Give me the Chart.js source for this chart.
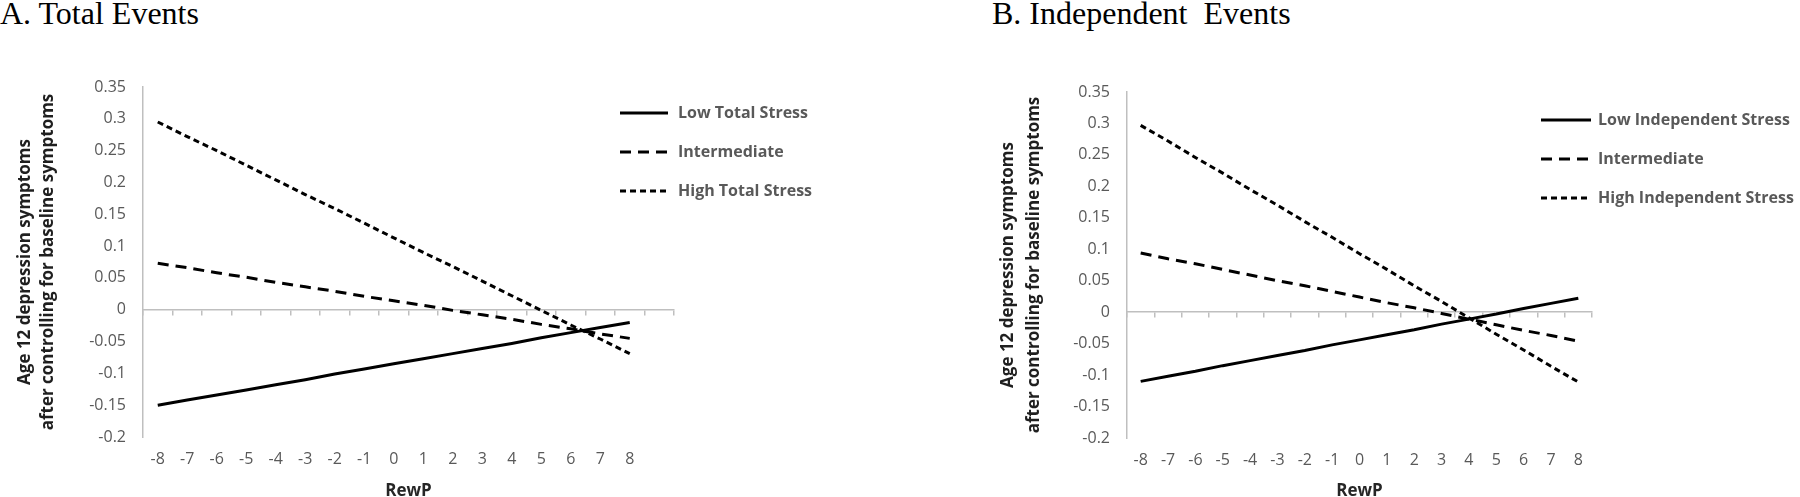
<!DOCTYPE html>
<html lang="en">
<head>
  <meta charset="UTF-8" />
  <title>RewP x Stress • Age 12 depression</title>
  <script src="https://cdn.jsdelivr.net/npm/chart.js"></script>
  <style>
    * { margin: 0; padding: 0; box-sizing: border-box; }
    body {
      width: 1800px;
      height: 497px;
      background: #fff;
      position: relative;
      overflow: hidden;
    }
    .panel-title {
      position: absolute;
      top: -3px;
      font-family: 'Liberation Serif', 'Times New Roman', serif;
      font-size: 32px;
      line-height: 32px;
      color: #000;
      white-space: pre;
    }
    canvas { position: absolute; top: 0; }
  </style>
</head>
<body>

<div class="panel-title" style="left:0">A. Total Events</div>
<div class="panel-title" style="left:992px">B. Independent  Events</div>

<canvas id="totalChart" width="900" height="497" style="left:0"></canvas>
<canvas id="indepChart" width="900" height="497" style="left:900px"></canvas>

<script>
  // RewP values on the x axis
  const rewp = [-8, -7, -6, -5, -4, -3, -2, -1, 0, 1, 2, 3, 4, 5, 6, 7, 8];

  // A. Total events
  const totalNames = ['Low Total Stress', 'Intermediate', 'High Total Stress'];
  const totalLow  = [-0.150, -0.142, -0.134, -0.126, -0.118, -0.110, -0.101, -0.093, -0.085, -0.077, -0.069, -0.061, -0.053, -0.044, -0.036, -0.028, -0.020];
  const totalMid  = [0.073, 0.066, 0.058, 0.051, 0.043, 0.036, 0.029, 0.021, 0.014, 0.007, -0.001, -0.008, -0.015, -0.023, -0.030, -0.038, -0.045];
  const totalHigh = [0.295, 0.272, 0.250, 0.227, 0.204, 0.181, 0.159, 0.136, 0.113, 0.090, 0.068, 0.045, 0.022, -0.001, -0.024, -0.046, -0.069];

  // B. Independent events
  const indepNames = ['Low Independent Stress', 'Intermediate', 'High Independent Stress'];
  const indepLow  = [-0.110, -0.102, -0.094, -0.085, -0.077, -0.069, -0.061, -0.052, -0.044, -0.036, -0.028, -0.019, -0.011, -0.003, 0.006, 0.014, 0.022];
  const indepMid  = [0.094, 0.085, 0.077, 0.068, 0.059, 0.050, 0.042, 0.033, 0.024, 0.015, 0.007, -0.002, -0.011, -0.020, -0.029, -0.037, -0.046];
  const indepHigh = [0.297, 0.272, 0.246, 0.221, 0.195, 0.170, 0.144, 0.119, 0.093, 0.068, 0.042, 0.017, -0.009, -0.035, -0.060, -0.086, -0.111];

  // y axis range / ticks
  const yMin = -0.2;
  const yMax = 0.35;
  const yStep = 0.05;
  const yTitle = ['Age 12 depression symptoms', 'after controlling for baseline symptoms'];
  const xTitle = 'RewP';

  const GRAY_AXIS = '#bfbfbf';
  const GRAY_TEXT = '#595959';
  const dashes = [[], [11, 7], [6, 4]];

  // legend with line samples, drawn by hand so it can sit where Excel put it
  const lineKey = {
    id: 'lineKey',
    afterDraw(chart, args, opts) {
      const ctx = chart.ctx;
      ctx.save();
      chart.data.datasets.forEach((ds, i) => {
        const y = opts.top + i * opts.gap;
        ctx.beginPath();
        ctx.setLineDash(ds.borderDash || []);
        ctx.lineWidth = ds.borderWidth;
        ctx.strokeStyle = ds.borderColor;
        ctx.moveTo(opts.left, y);
        ctx.lineTo(opts.left + opts.length, y);
        ctx.stroke();
        ctx.setLineDash([]);
        ctx.fillStyle = GRAY_TEXT;
        ctx.font = 'bold 16px "Open Sans"';
        ctx.textBaseline = 'middle';
        ctx.textAlign = 'left';
        ctx.fillText(ds.label, opts.left + opts.length + opts.space, y);
      });
      ctx.restore();
    }
  };

  function makeChart(id, labels, series, names, cfg) {
    const datasets = series.map((data, i) => ({
      label: names[i],
      data,
      borderColor: '#000',
      borderWidth: 3,
      borderDash: dashes[i],
      pointRadius: 0,
      tension: 0,
      fill: false
    }));

    return new Chart(document.getElementById(id), {
      type: 'line',
      data: { labels, datasets },
      plugins: [lineKey],
      options: {
        responsive: false,
        animation: false,
        devicePixelRatio: 1,
        layout: { padding: { left: 0, top: cfg.top, right: cfg.right, bottom: 0 } },
        plugins: {
          legend: { display: false },
          tooltip: { enabled: false },
          lineKey: cfg.key
        },
        scales: {
          x: {
            type: 'category',
            position: 'bottom',
            offset: true,
            grid: { display: false, drawTicks: false },
            border: { display: false },
            ticks: {
              color: GRAY_TEXT,
              font: { family: 'Open Sans', size: 16 },
              padding: 13,
              maxRotation: 0,
              autoSkip: false
            },
            title: {
              display: true,
              text: xTitle,
              color: '#262626',
              font: { family: 'Open Sans', size: 17, weight: 'bold', lineHeight: 0.65 },
              padding: 0
            },
            afterFit: s => { s.height = cfg.xHeight; }
          },
          // horizontal axis line at y = 0 with the tick marks
          zero: {
            axis: 'x',
            type: 'category',
            position: { y: 0 },
            offset: true,
            grid: {
              display: true,
              drawOnChartArea: false,
              offset: true,
              drawTicks: true,
              tickLength: 5,
              color: GRAY_AXIS,
              lineWidth: 1.5
            },
            border: { display: true, color: GRAY_AXIS, width: 1.5 },
            ticks: { display: false }
          },
          y: {
            type: 'linear',
            min: yMin,
            max: yMax,
            grid: { display: false, drawTicks: false },
            border: { display: true, color: GRAY_AXIS, width: 1.5 },
            ticks: {
              stepSize: yStep,
              padding: 17,
              color: GRAY_TEXT,
              font: { family: 'Open Sans', size: 16 },
              callback: v => String(Math.round(v * 100) / 100)
            },
            title: {
              display: true,
              text: yTitle,
              color: '#1f1f1f',
              font: { family: 'Open Sans', size: 17, weight: 'bold', lineHeight: cfg.titleLine + 'px' },
              padding: { top: cfg.titlePad, bottom: 0 }
            },
            afterFit: s => { s.width = cfg.yWidth; }
          }
        }
      }
    });
  }

  // left panel has one empty category at the end of the axis
  makeChart('totalChart', rewp.concat(['']), [totalLow, totalMid, totalHigh], totalNames, {
    top: 87, right: 226, xHeight: 60, yWidth: 143,
    titleLine: 23, titlePad: 13.5,
    key: { left: 620, top: 113, gap: 39, length: 48, space: 10 }
  });

  makeChart('indepChart', rewp, [indepLow, indepMid, indepHigh], indepNames, {
    top: 92, right: 208, xHeight: 59, yWidth: 227,
    titleLine: 26, titlePad: 95,
    key: { left: 641, top: 120, gap: 39, length: 50, space: 7 }
  });
</script>
</body>
</html>
